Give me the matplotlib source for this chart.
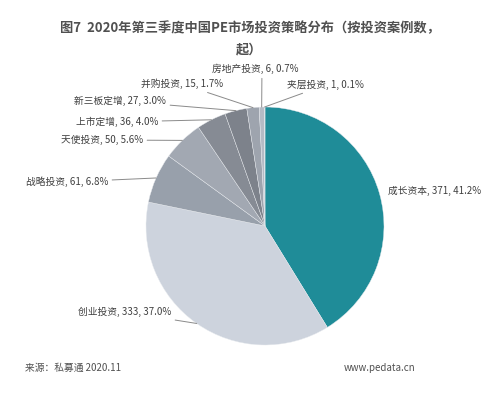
import numpy as np
import matplotlib.pyplot as plt

plt.rcParams['font.family'] = ['Noto Sans CJK SC', 'DejaVu Sans']

# data
categories = ['成长资本', '创业投资', '战略投资', '天使投资', '上市定增',
              '新三板定增', '并购投资', '房地产投资', '夹层投资']
counts = [371, 333, 61, 50, 36, 27, 15, 6, 1]
shares = ['41.2%', '37.0%', '6.8%', '5.6%', '4.0%', '3.0%', '1.7%', '0.7%', '0.1%']
colors = ['#1f8c98', '#cdd3dd', '#98a0ab', '#a2a8b2', '#868b94',
          '#7d828b', '#9ea4ae', '#b5bbc5', '#c8ccd4']

W, H = 499, 398
fig = plt.figure(figsize=(W / 100, H / 100), dpi=100)

# pie centred at (265, 226) px, radius ~119 px
cx, cy, r = 265, 226, 119
ax = fig.add_axes([(cx - r) / W, (H - cy - r) / H, 2 * r / W, 2 * r / H])
wedges, _ = ax.pie(counts, colors=colors, startangle=90, counterclock=False,
                   wedgeprops=dict(linewidth=0.3, edgecolor='#e8ebef'))
ax.set_xlim(-1, 1)
ax.set_ylim(-1, 1)
ax.set_aspect('equal')
ax.axis('off')

# label text positions (figure px) and alignment
label_pos = [(388, 191, 'left'), (171, 312, 'right'), (108, 182, 'right'),
             (143, 140, 'right'), (158, 122, 'right'), (166, 101, 'right'),
             (223, 84, 'right'), (255, 69, 'center'), (287, 85, 'left')]

for i, w in enumerate(wedges):
    ang = np.deg2rad((w.theta1 + w.theta2) / 2)
    pt = (np.cos(ang), np.sin(ang))
    x, y, ha = label_pos[i]
    txt = f'{categories[i]}, {counts[i]}, {shares[i]}'
    props = None
    if i > 0:
        props = dict(arrowstyle='-', color='#8a8a8a', lw=0.7,
                     shrinkA=1, shrinkB=0)
        if i == 7:
            props['relpos'] = (0.58, 0)
    ax.annotate(txt, xy=pt, xycoords='data',
                xytext=(x / W, 1 - y / H), textcoords='figure fraction',
                ha=ha, va='center', fontsize=7, color='#404040',
                arrowprops=props, annotation_clip=False)

fig.text(0.5, 1 - 28 / H, '图7  2020年第三季度中国PE市场投资策略分布（按投资案例数，',
         ha='center', va='center', fontsize=9.5, fontweight='bold', color='#505050')
fig.text(0.5, 1 - 49 / H, '起）', ha='center', va='center',
         fontsize=9.5, fontweight='bold', color='#505050')

fig.text(25 / W, 1 - 368 / H, '来源：私募通 2020.11', ha='left', va='center',
         fontsize=7, color='#505050')
fig.text(415 / W, 1 - 368 / H, 'www.pedata.cn', ha='right', va='center',
         fontsize=7, color='#505050')

fig.savefig('out.png', dpi=100, facecolor='white')
